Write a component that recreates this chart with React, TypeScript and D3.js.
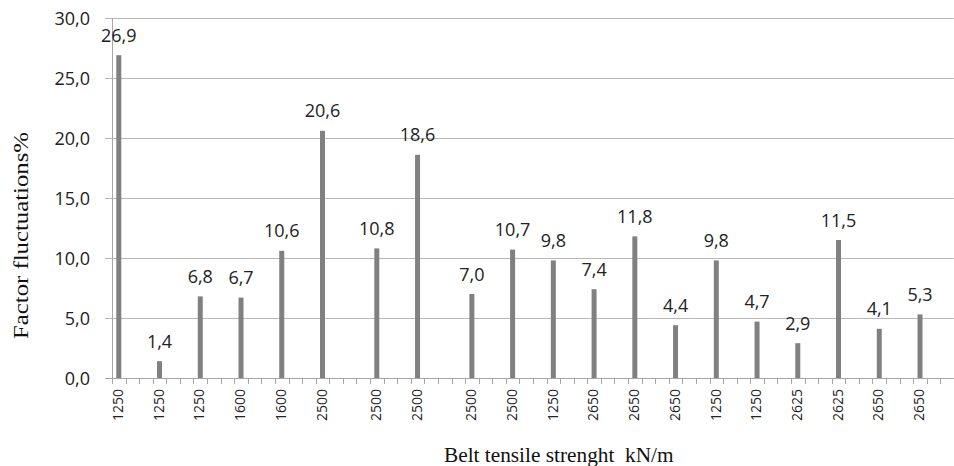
import React from "react";
import * as d3 from "d3";

// ---- data ----
const barLabels = ["1250","1250","1250","1600","1600","2500","2500","2500","2500","2500","1250","2650","2650","2650","1250","1250","2625","2625","2650","2650"];
const barValues = [26.9, 1.4, 6.8, 6.7, 10.6, 20.6, 10.8, 18.6, 7.0, 10.7, 9.8, 7.4, 11.8, 4.4, 9.8, 4.7, 2.9, 11.5, 4.1, 5.3];
// category slot of each bar on the (mostly empty) category axis
const barSlots = [0, 3, 6, 9, 12, 15, 19, 22, 26, 29, 32, 35, 38, 41, 44, 47, 50, 53, 56, 59];
const slotCount = 62;
const yTicks = [0, 5, 10, 15, 20, 25, 30];
const yTitle = "Factor fluctuations%";
const xTitle = "Belt tensile strenght  kN/m";

const W = 954;
const H = 466;
const left = 112;
const step = 13.58;
const y0 = 378;
const yTop = 18;

const fmt = (v: number) => v.toFixed(1).replace(".", ",");

export default function App() {
  const x = d3
    .scaleBand<number>()
    .domain(d3.range(slotCount))
    .range([left, left + slotCount * step])
    .paddingInner(0)
    .paddingOuter(0);
  const y = d3.scaleLinear().domain([0, 30]).range([y0, yTop]);
  const bw = 5;
  const gridRight = left + slotCount * step;
  const tickPositions = d3.range(slotCount + 1).map((i) => left + i * step);
  const sans = "'Open Sans', sans-serif";
  const serif = "'Liberation Serif', 'Times New Roman', serif";

  return (
    <svg
      width={W}
      height={H}
      style={{ position: "absolute", left: 0, top: 0, background: "#fff" }}
    >
      <rect x={0} y={0} width={W} height={H} fill="#fff" />
      {/* gridlines */}
      {yTicks.map((t) => (
        <line
          key={"g" + t}
          x1={left - 7}
          x2={gridRight}
          y1={Math.round(y(t)) + 0.5}
          y2={Math.round(y(t)) + 0.5}
          stroke={t === 0 ? "#a6a6a6" : "#b8b8b8"}
          strokeWidth={1}
        />
      ))}
      {/* y axis line */}
      <line x1={left + 0.5} x2={left + 0.5} y1={y(30)} y2={y0 + 6} stroke="#a6a6a6" />
      {/* x ticks */}
      {tickPositions.map((p, i) => (
        <line
          key={"xt" + i}
          x1={Math.round(p) + 0.5}
          x2={Math.round(p) + 0.5}
          y1={y0}
          y2={y0 + 6}
          stroke="#a6a6a6"
        />
      ))}
      {/* y tick labels */}
      {yTicks.map((t) => (
        <text
          key={"yl" + t}
          x={90}
          y={y(t) + 7}
          textAnchor="end"
          fontFamily={sans}
          fontSize={18}
          fill="#222"
        >
          {fmt(t)}
        </text>
      ))}
      {/* bars */}
      {barValues.map((v, i) => {
        const cx = (x(barSlots[i]) as number) + x.bandwidth() / 2;
        return (
          <g key={"b" + i}>
            <rect x={cx - bw / 2} y={y(v)} width={bw} height={y0 - y(v)} fill="#808080" />
            <text
              x={cx}
              y={y(v) - 13.5}
              textAnchor="middle"
              fontFamily={sans}
              fontSize={18}
              fill="#222"
            >
              {fmt(v)}
            </text>
            <text
              transform={`translate(${cx},389) rotate(-90)`}
              textAnchor="end"
              dy="0.3em"
              fontFamily={sans}
              fontSize={14}
              fill="#222"
            >
              {barLabels[i]}
            </text>
          </g>
        );
      })}
      {/* axis titles */}
      <text
        transform={`translate(28,235.5) rotate(-90)`}
        textAnchor="middle"
        fontFamily={serif}
        fontSize={21}
        fill="#111"
        textLength={207}
        lengthAdjust="spacingAndGlyphs"
      >
        {yTitle}
      </text>
      <text x={444} y={461.5} fontFamily={serif} fontSize={21.3} fill="#111" style={{ whiteSpace: "pre" }}>
        {xTitle}
      </text>
    </svg>
  );
}
